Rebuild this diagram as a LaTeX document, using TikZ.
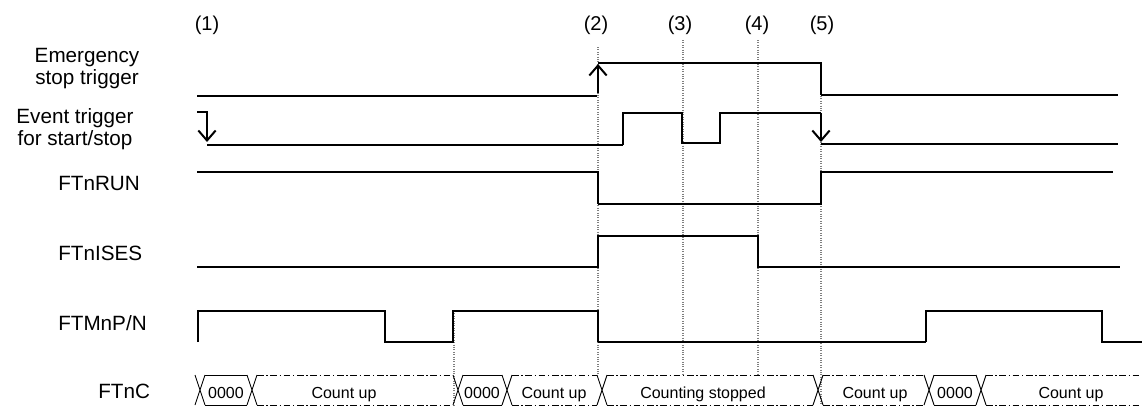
\documentclass[tikz,border=0pt]{standalone}
\usepackage{fontspec}
\setmainfont{Liberation Sans}
\usetikzlibrary{arrows.meta}
\definecolor{sigline}{HTML}{000000}
\definecolor{guideline}{HTML}{7F7F7F}
\tikzset{
  sig/.style={
    line width=0.9pt,
    draw=sigline
  },
  sigthick/.style={
    line width=1.5pt,
    draw=sigline
  },
  guide/.style={
    densely dotted,
    line width=0.8pt,
    draw=guideline
  },
  edgearrow/.style={
    -{Straight Barb[length=7.5pt,width=13pt]},
    line width=1.5pt,
    draw=sigline
  },
  signame/.style={
    font=\fontsize{15.5}{16.5}\selectfont,
    align=center,
    inner sep=0pt
  },
  marker/.style={
    font=\fontsize{15}{16.5}\selectfont,
    anchor=base,
    inner sep=0pt
  },
  busline/.style={
    line width=0.7pt,
    draw=sigline
  },
  busdash/.style={
    busline,
    dash pattern=on 5pt off 2pt on 1pt off 2pt
  },
  bustext/.style={
    font=\fontsize{12}{14}\selectfont,
    anchor=base,
    inner sep=0pt
  }
}

\begin{document}
\begin{tikzpicture}[x=0.75pt, y=-0.75pt]
\useasboundingbox (0,0) rectangle (1142,407);

% Signal names.
\node[signame] (emg) at (87,69) {Emergency\\stop trigger};
\node[signame] (evt) at (75,129) {Event trigger\\for start/stop};
\node[signame, anchor=base west] (run) at (58,190) {FTnRUN};
\node[signame, anchor=base west] (ises) at (58,260) {FTnISES};
\node[signame, anchor=base west] (pn) at (58,330) {FTMnP/N};
\node[signame, anchor=base west] (cnt) at (98,398) {FTnC};

% Timing points.
\node[marker] (t1) at (207,31) {(1)};
\node[marker] (t2) at (596,31) {(2)};
\node[marker] (t3) at (680,31) {(3)};
\node[marker] (t4) at (757,31) {(4)};
\node[marker] (t5) at (822,31) {(5)};

% Guide lines.
\draw[guide] (454,311) -- (454,405);
\draw[guide] (598,47) -- (598,375);
\draw[guide] (683,40) -- (683,375);
\draw[guide] (758,40) -- (758,375);
\draw[guide] (821,96) -- (821,405);

% Emergency stop trigger.
\draw[sigthick] (197,96) -- (597,96);
\draw[sig] (598,63) -- (821,63) -- (821,95);
\draw[sigthick] (821,95) -- (1118,95);
\draw[edgearrow] (598,93) -- (598,64);

% Event trigger for start/stop.
\draw[edgearrow] (197,112) -- (207,112) -- (207,142);
\draw[sigthick] (207,145) -- (623,145);
\draw[sig] (623,145) -- (623,113) -- (682,113) -- (682,143) -- (720,143) -- (720,113) -- (821,113);
\draw[edgearrow] (821,113) -- (821,142);
\draw[sigthick] (821,144) -- (1118,144);

% FTnRUN.
\draw[sig] (197,172) -- (598,172) -- (598,204);
\draw[sigthick] (598,204) -- (821,204) -- (821,172) -- (1113,172);

% FTnISES.
\draw[sig] (197,267) -- (598,267) -- (598,236) -- (758,236) -- (758,267) -- (1120,267);

% FTMnP/N.
\draw[sig] (198,342) -- (198,311) -- (385,311) -- (385,342) -- (453,342) -- (453,311) -- (598,311) -- (598,342);
\draw[sigthick] (598,342) -- (926,342);
\draw[sig] (926,342) -- (926,311) -- (1102,311) -- (1102,342) -- (1142,342);

% FTnC bus.
\foreach \c in {200,252,458,507,602,818,929,981} {
  \draw[busline] (\c-5,375) -- (\c+5,405) (\c-5,405) -- (\c+5,375);
}
\foreach \a/\b in {200/252, 458/507, 929/981} {
  \draw[busline] (\a+5,375) -- (\b-5,375) (\a+5,405) -- (\b-5,405);
}
\foreach \a/\b in {252/458, 507/602, 602/818, 818/929, 981/1147} {
  \draw[busdash] (\a+5,375) -- (\b-5,375) (\a+5,405) -- (\b-5,405);
}

\node[bustext] (v1) at (226,398) {0000};
\node[bustext] (c1) at (344,398) {Count up};
\node[bustext] (v2) at (482,398) {0000};
\node[bustext] (c2) at (554,398) {Count up};
\node[bustext] (stp) at (703,398) {Counting stopped};
\node[bustext] (c3) at (875,398) {Count up};
\node[bustext] (v3) at (955,398) {0000};
\node[bustext] (c4) at (1071,398) {Count up};

\end{tikzpicture}
\end{document}
